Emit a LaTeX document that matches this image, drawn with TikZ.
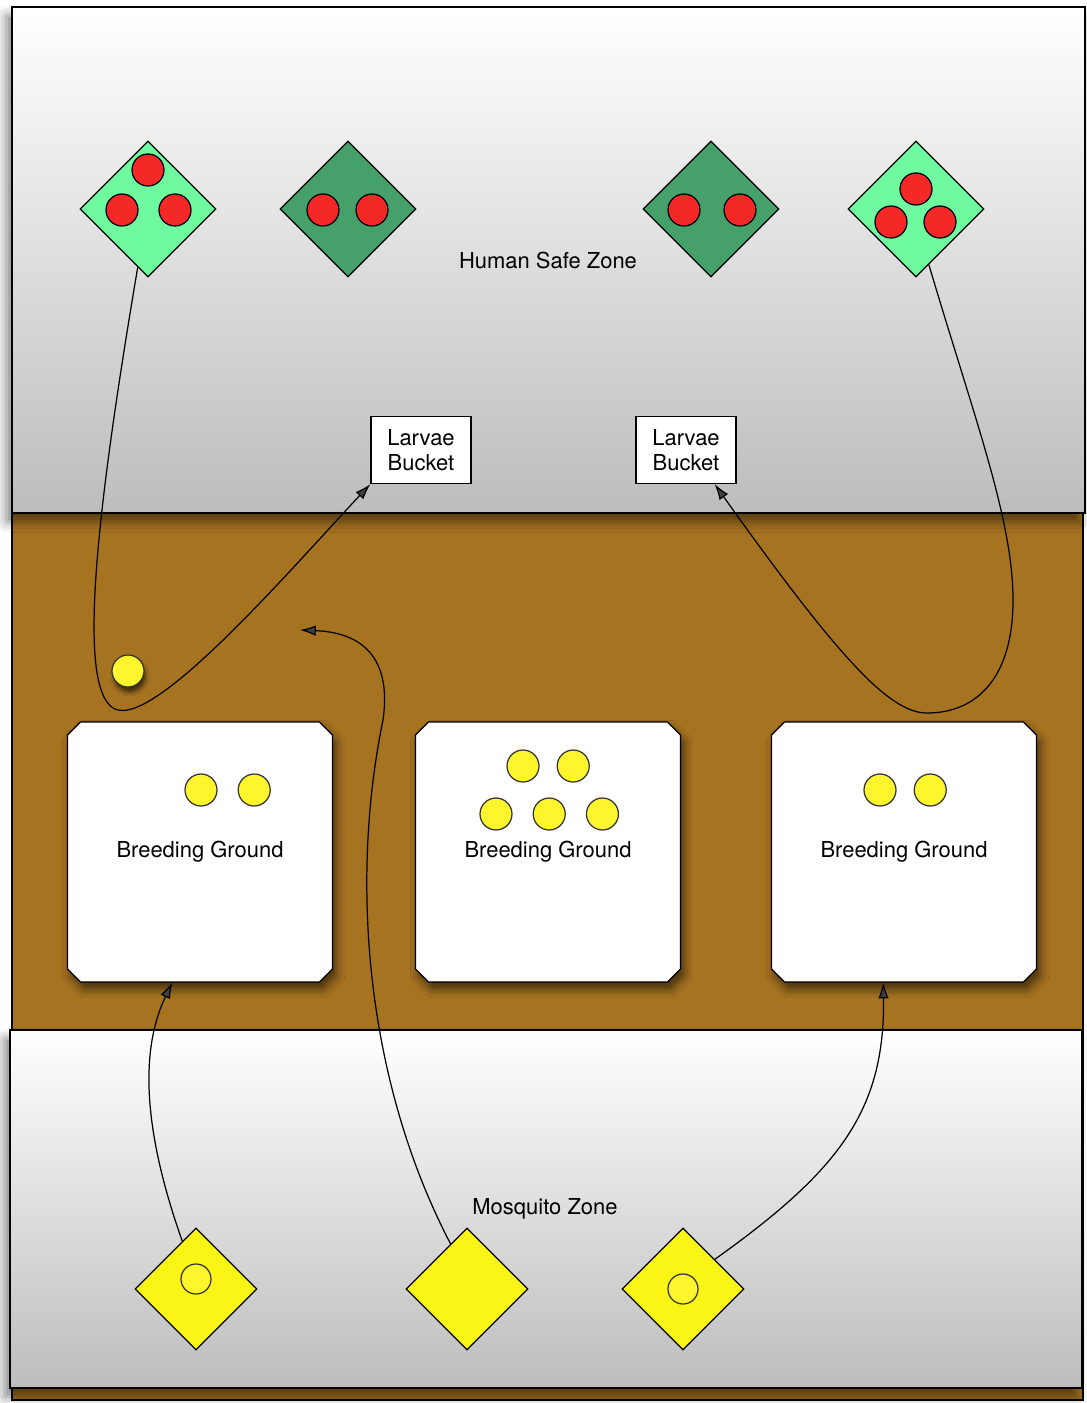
\documentclass[tikz,border=0pt]{standalone}
\usepackage{fontspec}
\setmainfont{TeX Gyre Heros}
\usetikzlibrary{arrows.meta,positioning,calc,shapes.geometric,shapes.misc,shadows.blur}
\definecolor{soil}{RGB}{166,115,33}
\definecolor{safegreen}{RGB}{112,250,160}
\definecolor{deepgreen}{RGB}{70,160,105}
\definecolor{dotred}{RGB}{245,40,40}
\definecolor{mozzy}{RGB}{250,245,20}
\definecolor{larva}{RGB}{255,245,45}

\begin{document}
\begin{tikzpicture}[x=0.02cm,y=-0.02cm,>={Latex[length=9pt,width=6pt]},line width=0.7pt,
  font=\fontsize{12.5}{14.5}\selectfont,
  zone/.style={draw,top color=white,bottom color=black!26,
    blur shadow={shadow xshift=-3pt,shadow yshift=-5pt,shadow blur radius=6pt,shadow opacity=50}},
  human/.style={diamond,draw,aspect=1,inner sep=0,minimum size=2.72cm},
  mozzie/.style={diamond,draw,fill=mozzy,aspect=1,inner sep=0,minimum size=2.44cm},
  red dot/.style={circle,draw,fill=dotred,inner sep=0,minimum size=0.64cm},
  egg/.style={circle,draw=black!80,fill=larva,inner sep=0,minimum size=0.64cm},
  bucket/.style={draw,fill=white,align=center,minimum width=2cm,minimum height=1.34cm,inner sep=0},
  ground/.style={chamfered rectangle,chamfered rectangle xsep=0.13cm,chamfered rectangle ysep=0.13cm,
    draw,fill=white,minimum width=5.3cm,minimum height=5.2cm,inner sep=0,
    blur shadow={shadow xshift=2pt,shadow yshift=-4pt,shadow blur radius=5pt,shadow opacity=60}}]
    \useasboundingbox (0,0) rectangle (1087,1403);
    \filldraw[fill=soil] (12,513) rectangle (1083,1400);
    \draw[zone] (12,7) rectangle (1085,513);
    \draw[zone] (10,1030) rectangle (1082,1388);

    \node[human,fill=safegreen](S1) at (148,209) {};
    \node[human,fill=deepgreen](S2) at (348,209) {};
    \node[human,fill=deepgreen](S3) at (711,209) {};
    \node[human,fill=safegreen](S4) at (916,209) {};
    \foreach \p [count=\i] in {(148,170),(122,210),(175,210),(323,210),(372,210),
      (684,210),(740,210),(916,189),(891,222),(940,222)}
      \node[red dot](R\i) at \p {};
    \node(safe) at (548,260) {Human Safe Zone};

    \node[bucket](L1) at (421,450) {Larvae\\Bucket};
    \node[bucket](L2) at (686,450) {Larvae\\Bucket};

    \node[egg,blur shadow={shadow xshift=1pt,shadow yshift=-3pt,shadow opacity=60}](E) at (128,671) {};

    \node[ground](B1) at (200,852) {\raisebox{-2pt}{Breeding Ground}};
    \node[ground](B2) at (548,852) {\raisebox{-2pt}{Breeding Ground}};
    \node[ground](B3) at (904,852) {\raisebox{-2pt}{Breeding Ground}};
    \node[egg](B1a) at (201,790) {};
    \node[egg,right=0.4cm of B1a](B1b) {};
    \node[egg](B2a) at (523,766) {};
    \node[egg,right=0.34cm of B2a](B2b) {};
    \node[egg](B2c) at (496,814) {};
    \node[egg,right=0.4cm of B2c](B2d) {};
    \node[egg,right=0.4cm of B2d](B2e) {};
    \node[egg](B3a) at (880,790) {};
    \node[egg,right=0.34cm of B3a](B3b) {};

    \node(mosq) at (545,1209) {Mosquito Zone};
    \node[mozzie](M1) at (196,1289) {};
    \node[mozzie](M2) at (467,1289) {};
    \node[mozzie](M3) at (683,1289) {};
    \node[egg,minimum size=0.6cm](M1a) at (196,1279) {};
    \node[egg,minimum size=0.6cm](M3a) at (683,1289) {};

    \coordinate (drop) at (300,630);
    \draw[->] (S1.-100) .. controls (95,520) and (75,700) .. (118,710)
      .. controls (161,720) and (290,570) .. (L1.south west);
    \draw[->] (S4.-77) .. controls (975,420) and (1013,520) .. (1013,600)
      .. controls (1013,680) and (975,713) .. (927,713)
      .. controls (890,713) and (840,660) .. (L2.-50);
    \draw[->] (M2.110) .. controls (365,1080) and (350,880) .. (383,720)
      .. controls (390,672) and (375,633) .. (drop);
    \draw[->] (M1.106) .. controls (150,1150) and (135,1060) .. (B1.-102);
    \draw[->] (M3.43) .. controls (840,1170) and (885,1110) .. (B3.-99);
\end{tikzpicture}
\end{document}
